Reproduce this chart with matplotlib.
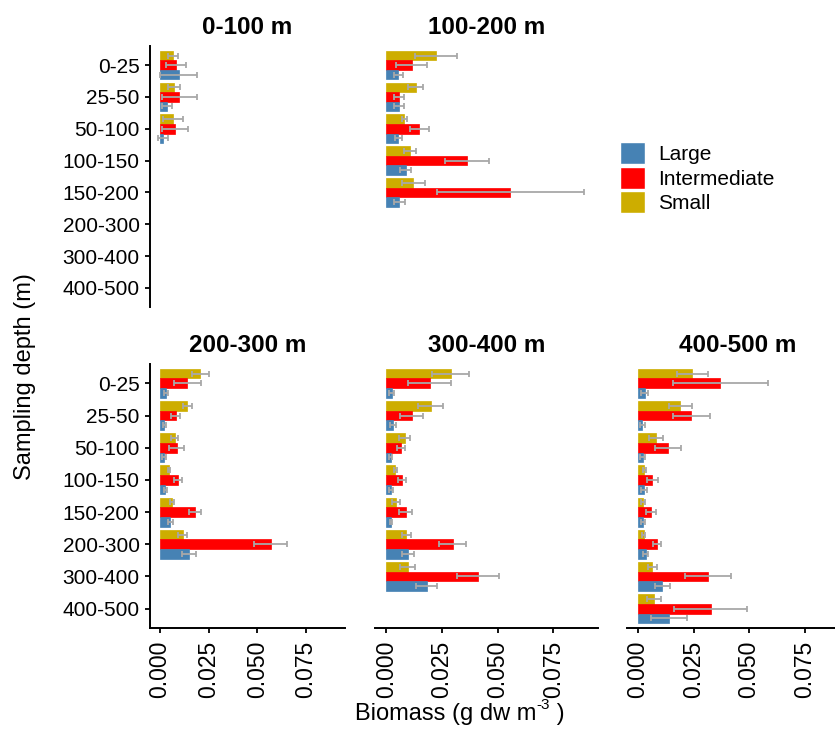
import numpy as np
import matplotlib

matplotlib.use("Agg")
import matplotlib.pyplot as plt
from matplotlib.patches import Patch

plt.rcParams["font.family"] = ["Liberation Sans", "DejaVu Sans"]

depths = ["0-25", "25-50", "50-100", "100-150", "150-200", "200-300", "300-400", "400-500"]
panels = ["0-100 m", "100-200 m", "200-300 m", "300-400 m", "400-500 m"]
sizes = ["Large", "Intermediate", "Small"]
colors = {"Large": "#4682B4", "Intermediate": "#FF0000", "Small": "#CDAD00"}

# medias (g dw m-3) y desviaciones, por panel y por talla
small_mean = {
    "0-100 m": [0.0067, 0.0074, 0.0067],
    "100-200 m": [0.0224, 0.0132, 0.0082, 0.0106, 0.0122],
    "200-300 m": [0.0208, 0.0142, 0.0077, 0.0046, 0.0062, 0.0117],
    "300-400 m": [0.0289, 0.0201, 0.0084, 0.0040, 0.0043, 0.0090, 0.0096],
    "400-500 m": [0.0245, 0.0190, 0.0079, 0.0027, 0.0021, 0.0025, 0.0064, 0.0072],
}
small_sd = {
    "0-100 m": [0.0025, 0.0032, 0.0050],
    "100-200 m": [0.0093, 0.0032, 0.0013, 0.0028, 0.0050],
    "200-300 m": [0.0045, 0.0023, 0.0019, 0.0004, 0.0010, 0.0021],
    "300-400 m": [0.0083, 0.0056, 0.0025, 0.0007, 0.0017, 0.0020, 0.0035],
    "400-500 m": [0.0072, 0.0051, 0.0032, 0.0007, 0.0008, 0.0007, 0.0020, 0.0033],
}
inter_mean = {
    "0-100 m": [0.0084, 0.0101, 0.0080],
    "100-200 m": [0.0115, 0.0058, 0.0149, 0.0363, 0.0556],
    "200-300 m": [0.0142, 0.0081, 0.0086, 0.0094, 0.0180, 0.0568],
    "300-400 m": [0.0195, 0.0114, 0.0067, 0.0070, 0.0087, 0.0298, 0.0410],
    "400-500 m": [0.0369, 0.0239, 0.0134, 0.0064, 0.0058, 0.0085, 0.0315, 0.0327],
}
inter_sd = {
    "0-100 m": [0.0053, 0.0089, 0.0067],
    "100-200 m": [0.0070, 0.0022, 0.0042, 0.0097, 0.0330],
    "200-300 m": [0.0070, 0.0024, 0.0040, 0.0020, 0.0032, 0.0085],
    "300-400 m": [0.0097, 0.0052, 0.0017, 0.0017, 0.0030, 0.0060, 0.0094],
    "400-500 m": [0.0214, 0.0084, 0.0058, 0.0024, 0.0021, 0.0017, 0.0103, 0.0165],
}
large_mean = {
    "0-100 m": [0.0097, 0.0038, 0.0017],
    "100-200 m": [0.0055, 0.0058, 0.0055, 0.0088, 0.0058],
    "200-300 m": [0.0033, 0.0024, 0.0022, 0.0029, 0.0055, 0.0149],
    "300-400 m": [0.0025, 0.0030, 0.0021, 0.0022, 0.0022, 0.0097, 0.0181],
    "400-500 m": [0.0030, 0.0019, 0.0021, 0.0027, 0.0021, 0.0034, 0.0109, 0.0140],
}
large_sd = {
    "0-100 m": [0.0096, 0.0027, 0.0024],
    "100-200 m": [0.0019, 0.0022, 0.0017, 0.0025, 0.0025],
    "200-300 m": [0.0010, 0.0009, 0.0008, 0.0006, 0.0013, 0.0037],
    "300-400 m": [0.0010, 0.0013, 0.0006, 0.0008, 0.0005, 0.0027, 0.0045],
    "400-500 m": [0.0016, 0.0012, 0.0012, 0.0015, 0.0009, 0.0011, 0.0034, 0.0082],
}
series = {
    "Small": (small_mean, small_sd, -0.3),
    "Intermediate": (inter_mean, inter_sd, 0.0),
    "Large": (large_mean, large_sd, 0.3),
}
xticks = [0.0, 0.025, 0.05, 0.075]

W, H = 835, 745
fig = plt.figure(figsize=(W / 100, H / 100), dpi=100)


def rect(x0, x1, y0, y1):
    return [x0 / W, 1 - y1 / H, (x1 - x0) / W, (y1 - y0) / H]


layout = {
    "0-100 m": rect(150, 345, 46, 307),
    "100-200 m": rect(375, 598, 46, 307),
    "200-300 m": rect(150, 345, 364, 628),
    "300-400 m": rect(375, 598, 364, 628),
    "400-500 m": rect(627, 849, 364, 628),
}

for p in panels:
    ax = fig.add_axes(layout[p])
    for s in ["Small", "Intermediate", "Large"]:
        means, sds, off = series[s]
        m = np.array(means[p])
        y = np.arange(len(m)) + off
        ax.barh(y, m, height=0.3, color=colors[s], edgecolor=colors[s], linewidth=0.5, zorder=2)
    for s in ["Small", "Intermediate", "Large"]:
        means, sds, off = series[s]
        m = np.array(means[p])
        sd = np.array(sds[p])
        y = np.arange(len(m)) + off
        ax.errorbar(m, y, xerr=sd, fmt="none", ecolor="#A8A8A8", elinewidth=1.3,
                    capsize=2.1, capthick=1.3, zorder=3)
    ax.set_xlim(-0.005, 0.095)
    ax.set_ylim(len(depths) - 0.4, -0.6)
    ax.set_title(p, fontsize=17.5, fontweight="bold", pad=9)
    for sp in ax.spines.values():
        sp.set_visible(False)
    left = p in ("0-100 m", "200-300 m")
    bottom = p in ("200-300 m", "300-400 m", "400-500 m")
    ax.spines["left"].set_visible(left)
    ax.spines["bottom"].set_visible(bottom)
    ax.spines["left"].set_linewidth(1.4)
    ax.spines["bottom"].set_linewidth(1.4)
    ax.set_yticks(range(len(depths)))
    ax.set_yticklabels(depths if left else [])
    ax.set_xticks(xticks)
    ax.set_xticklabels([f"{v:.3f}" for v in xticks] if bottom else [], rotation=90)
    ax.tick_params(axis="y", left=left, length=3.5, width=1.3, pad=4, labelsize=15)
    ax.tick_params(axis="x", bottom=bottom, length=3.8, width=1.3, pad=5.5, labelsize=16.5)

handles = [Patch(facecolor=colors[s], edgecolor="white") for s in sizes]
fig.legend(handles, sizes, loc="upper left", bbox_to_anchor=(620 / W, 1 - 142 / H),
           frameon=False, fontsize=15, handlelength=1.2, handleheight=1.25,
           handletextpad=0.65, labelspacing=0.12, borderpad=0, borderaxespad=0)

fig.text(25 / W, 1 - 377 / H, "Sampling depth (m)", rotation=90, fontsize=17,
         ha="center", va="center")

# etiqueta x con superíndice pequeño, como en el original
renderer = fig.canvas.get_renderer()
y_lab = 1 - 720 / H
parts = [("Biomass (g dw m", 17, 0), ("-3", 11, 11 / H), (" )", 17, 0)]
texts = [fig.text(0, y_lab + dy, s, fontsize=fs, ha="left", va="baseline") for s, fs, dy in parts]
widths = [t.get_window_extent(renderer).width / W for t in texts]
x = 460 / W - sum(widths) / 2
for t, w in zip(texts, widths):
    t.set_x(x)
    x += w

fig.savefig("out.png", dpi=100)
